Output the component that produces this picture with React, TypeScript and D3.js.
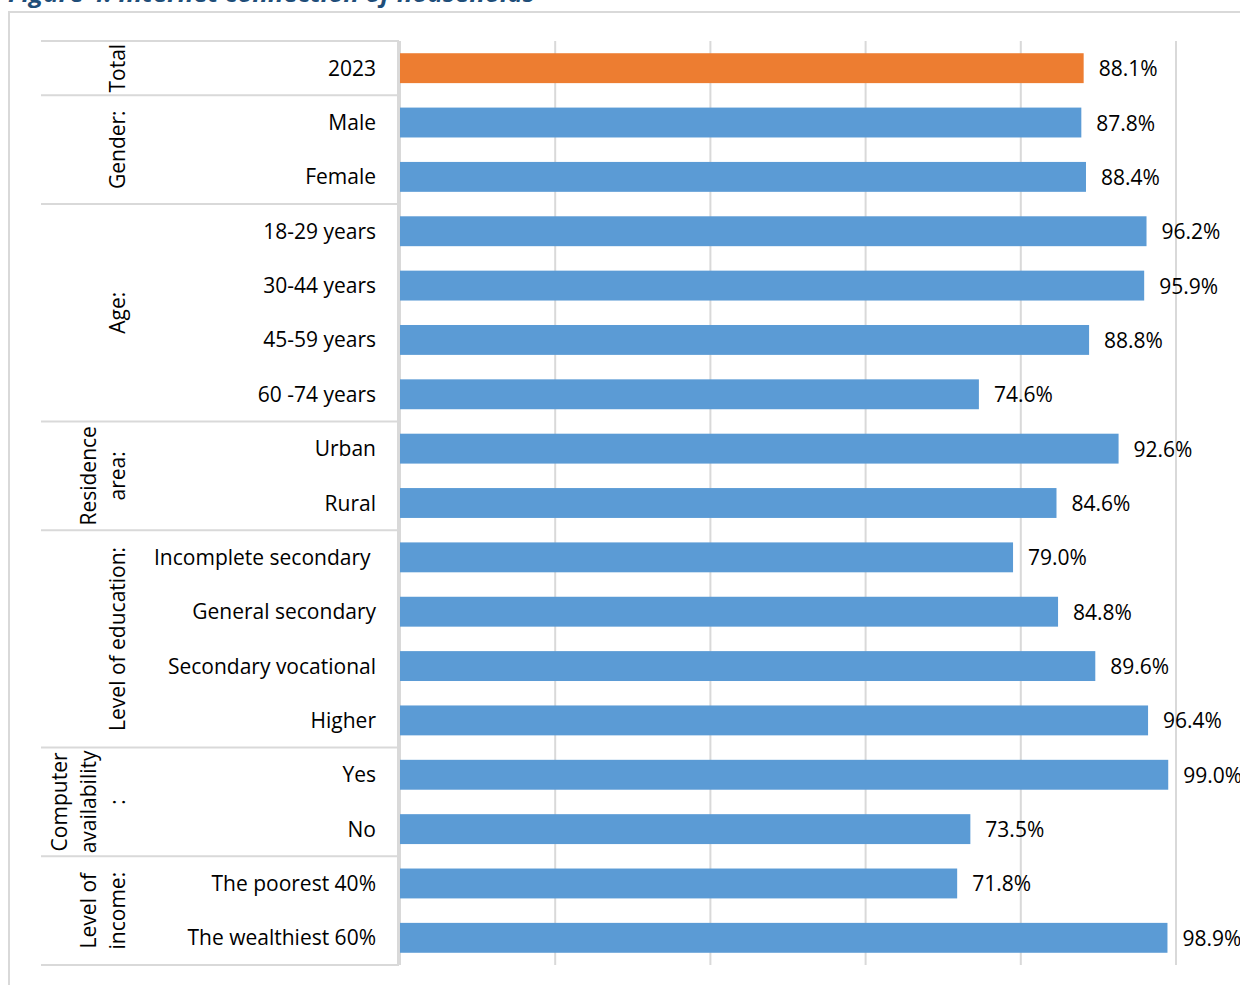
import React from "react";
import * as d3 from "d3";

const categories = [
  "2023", "Male", "Female", "18-29 years", "30-44 years", "45-59 years", "60 -74 years",
  "Urban", "Rural", "Incomplete secondary ", "General secondary", "Secondary vocational", "Higher",
  "Yes", "No", "The poorest 40%", "The wealthiest 60%",
];
const values = [88.1, 87.8, 88.4, 96.2, 95.9, 88.8, 74.6, 92.6, 84.6, 79.0, 84.8, 89.6, 96.4, 99.0, 73.5, 71.8, 98.9];
const highlighted = ["2023"];
const groupNames = [["Total"], ["Gender:"], ["Age:"], ["Residence", "area:"], ["Level of education:"], ["Computer", "availability", ":"], ["Level of", "income:"]];
const groupSizes = [1, 2, 4, 2, 4, 2, 2];
const xTicks = [0, 20, 40, 60, 80, 100];
const title = "Figure 4. Internet connection of households";

const FONT = "'Open Sans', sans-serif";

export default function App() {
  const W = 1240, H = 985;
  const plotTop = 41, plotBottom = 965;
  const x = d3.scaleLinear().domain([0, 100]).range([400, 1176]);
  const y = d3.scaleBand<string>().domain(categories).range([plotTop, plotBottom]).paddingInner(0.45).paddingOuter(0.225);
  const step = y.step();
  const fmt = d3.format(".1f");
  const grid = "#d9d9d9";

  let acc = 0;
  const groups = groupSizes.map((n, i) => {
    const y0 = plotTop + acc * step;
    acc += n;
    const y1 = plotTop + acc * step;
    return { lines: groupNames[i], y0, y1 };
  });

  return (
    <svg width={W} height={H} style={{ position: "absolute", left: 0, top: 0, background: "#fff" }} fontFamily={FONT}>
      <text x={8} y={2} fontSize={24} fontWeight="bold" fontStyle="italic" fill="#1F4E79" textLength={527} lengthAdjust="spacingAndGlyphs">{title}</text>
      <rect x={9} y={12} width={W + 50} height={H + 50} fill="none" stroke={grid} strokeWidth={2} />
      {xTicks.map((t) => (
        <line key={t} x1={x(t)} x2={x(t)} y1={plotTop} y2={plotBottom} stroke={grid} strokeWidth={2} />
      ))}
      <line x1={41} x2={399} y1={plotTop} y2={plotTop} stroke={grid} strokeWidth={2} />
      <line x1={398} x2={398} y1={plotTop} y2={plotBottom} stroke={grid} strokeWidth={2} />
      {groups.map((g, i) => (
        <line key={"gl" + i} x1={41} x2={399} y1={g.y1} y2={g.y1} stroke={grid} strokeWidth={2} />
      ))}
      {groups.map((g, i) => {
        const cy = (g.y0 + g.y1) / 2;
        const n = g.lines.length;
        return g.lines.map((ln, j) => {
          const bx = 125 - (n - 1 - j) * 29;
          return (
            <text key={"g" + i + "-" + j} transform={`translate(${bx},${cy}) rotate(-90)`} textAnchor="middle" fontSize={21} fill="#000">
              {ln}
            </text>
          );
        });
      })}
      {categories.map((c, i) => (
        <rect key={"b" + c} x={x(0)} y={y(c)} width={x(values[i]) - x(0)} height={y.bandwidth()}
          fill={highlighted.includes(c) ? "#ED7D31" : "#5B9BD5"} />
      ))}
      {categories.map((c) => (
        <text key={"c" + c} x={376} y={(y(c) as number) + y.bandwidth() / 2 + 7.5} textAnchor="end" fontSize={21} fill="#000" style={{ whiteSpace: "pre" }}>
          {c}
        </text>
      ))}
      {categories.map((c, i) => (
        <text key={"v" + c} x={x(values[i]) + 15} y={(y(c) as number) + y.bandwidth() / 2 + 8} fontSize={21} fill="#000">
          {fmt(values[i]) + "%"}
        </text>
      ))}
    </svg>
  );
}
